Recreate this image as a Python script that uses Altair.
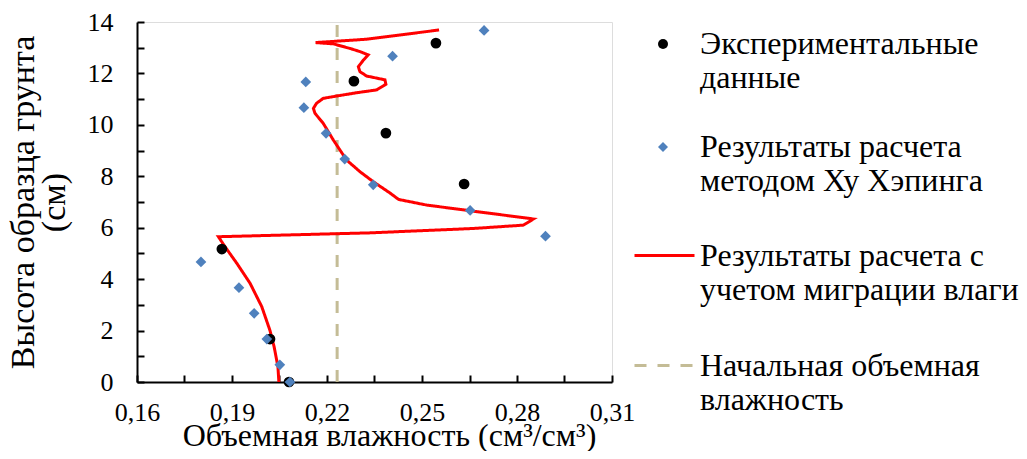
import altair as alt
import pandas as pd

# ---- data ----
exp_x = [0.2080, 0.2020, 0.1868, 0.2633, 0.2386, 0.2285, 0.2544]
exp_y = [0.00, 1.67, 5.17, 7.70, 9.68, 11.70, 13.18]

xu_x = [0.2083, 0.2051, 0.2010, 0.1970, 0.1922, 0.1802, 0.2890, 0.2652,
        0.2346, 0.2256, 0.2197, 0.2127, 0.2133, 0.2407, 0.2696]
xu_y = [0.00, 0.67, 1.67, 2.67, 3.67, 4.67, 5.67, 6.67,
        7.67, 8.67, 9.67, 10.67, 11.67, 12.67, 13.67]

mig_x = [0.2048, 0.2045, 0.2033, 0.2020, 0.1994, 0.1957, 0.1915, 0.1878, 0.1857,
         0.2336, 0.2662, 0.2820, 0.2852, 0.2652, 0.2515, 0.2426, 0.2400, 0.2346,
         0.2304, 0.2262, 0.2220, 0.2188, 0.2162, 0.2157, 0.2167, 0.2188, 0.2230,
         0.2294, 0.2357, 0.2386, 0.2383, 0.2325, 0.2304, 0.2299, 0.2315, 0.2330,
         0.2304, 0.2273, 0.2220, 0.2164, 0.2325, 0.2554]
mig_y = [0.00, 0.60, 1.37, 2.00, 2.93, 3.84, 4.62, 5.26, 5.65,
         5.80, 5.97, 6.10, 6.34, 6.66, 6.88, 7.10, 7.34, 7.79,
         8.18, 8.63, 9.41, 10.06, 10.45, 10.64, 10.84, 11.03, 11.12,
         11.25, 11.36, 11.58, 11.75, 11.90, 12.07, 12.26, 12.52, 12.72,
         12.85, 12.97, 13.15, 13.20, 13.33, 13.69]

init_x = [0.2232, 0.2232]
init_y = [0.0, 14.0]

series_names = [
    "Экспериментальные|данные",
    "Результаты расчета|методом Ху Хэпинга",
    "Результаты расчета с|учетом миграции влаги",
    "Начальная объемная|влажность",
]

x_ticks = [0.16, 0.175, 0.19, 0.205, 0.22, 0.235, 0.25, 0.265, 0.28, 0.295, 0.31]
y_ticks = list(range(0, 15))

# ---- tables ----
pts = pd.DataFrame({
    "x": exp_x + xu_x,
    "y": exp_y + xu_y,
    "s": [series_names[0]] * len(exp_x) + [series_names[1]] * len(xu_x),
})
lines = pd.DataFrame({
    "x": init_x + mig_x,
    "y": init_y + mig_y,
    "s": [series_names[3]] * len(init_x) + [series_names[2]] * len(mig_x),
    "o": list(range(len(init_x))) + list(range(len(mig_x))),
})

W, H = 475, 360
FONT = "Liberation Serif"

xscale = alt.Scale(domain=[0.16, 0.31], nice=False, zero=False)
yscale = alt.Scale(domain=[0, 14], nice=False, zero=False)

x_label_expr = ("(round(datum.value*1000) % 30 == 10) ? "
                "replace(format(datum.value, '.2f'), '.', ',') : ''")
y_label_expr = "(datum.value % 2 == 0) ? datum.label : ''"

axis_common = dict(grid=False, labelFont=FONT, labelFontSize=26, labelColor="black",
                   titleFont=FONT, titleColor="black",
                   titleFontWeight="normal", domainColor="black", domainWidth=2)

x_lab_axis = alt.Axis(orient="bottom", values=x_ticks, labelExpr=x_label_expr,
                      ticks=False, labelPadding=17, labelFlush=False,
                      title="Объемная влажность (см³/см³)",
                      titleX=252, titleY=38, titleAlign="center", titleBaseline="top",
                      titleFontSize=32, **axis_common)
y_lab_axis = alt.Axis(orient="left", values=y_ticks, labelExpr=y_label_expr,
                      ticks=False, labelPadding=24, labelFlush=False,
                      title=["Высота образца грунта", "(см)"], titlePadding=16,
                      titleLineHeight=31, titleFontSize=34, **axis_common)

x_tick_axis = alt.Axis(orient="top", offset=-H, values=x_ticks, labels=False,
                       domain=False, ticks=True, tickSize=7, tickWidth=2,
                       tickColor="black", grid=False, title=None)
y_tick_axis = alt.Axis(orient="right", offset=-W, values=y_ticks, labels=False,
                       domain=False, ticks=True, tickSize=7, tickWidth=2,
                       tickColor="black", grid=False, title=None)

p_legend = alt.Legend(title=None, orient="right", labelExpr="split(datum.label, '|')",
                      labelFont=FONT, labelFontSize=32, labelColor="black",
                      labelLimit=0, labelBaseline="middle", symbolOffset=21,
                      labelOffset=21, rowPadding=37, offset=8, padding=6,
                      symbolStrokeWidth=0)
l_legend = alt.Legend(title=None, orient="right", labelExpr="split(datum.label, '|')",
                      labelFont=FONT, labelFontSize=32, labelColor="black",
                      labelLimit=0, labelBaseline="middle", symbolOffset=0,
                      labelOffset=4, rowPadding=28, offset=8, padding=13,
                      symbolSize=3600, symbolStrokeWidth=3, symbolType="stroke")

p_fill = alt.Fill("s:N", scale=alt.Scale(domain=series_names[:2],
                                          range=["#000000", "#4F81BD"]),
                  legend=p_legend)
p_shape = alt.Shape("s:N", scale=alt.Scale(domain=series_names[:2],
                                            range=["circle", "diamond"]),
                    legend=p_legend)

# empty layer placed first so the point legend is listed above the line legend
legend_carrier = alt.Chart(pts).transform_filter("false").mark_point(
    filled=True, size=115, opacity=1
).encode(
    x=alt.X("x:Q", scale=xscale, axis=None),
    y=alt.Y("y:Q", scale=yscale, axis=None),
    fill=p_fill,
    shape=p_shape,
)

line_layer = alt.Chart(lines).mark_line(strokeWidth=3, clip=True).encode(
    x=alt.X("x:Q", scale=xscale, axis=x_tick_axis),
    y=alt.Y("y:Q", scale=yscale, axis=y_tick_axis),
    stroke=alt.Stroke("s:N", scale=alt.Scale(domain=[series_names[2], series_names[3]],
                                              range=["#FF0000", "#C4BC96"]),
                      legend=l_legend),
    strokeDash=alt.StrokeDash("s:N", scale=alt.Scale(domain=[series_names[2], series_names[3]],
                                                      range=[[1, 0], [12, 11]]),
                              legend=l_legend),
    order="o:Q",
)

point_layer = alt.Chart(pts).mark_point(filled=True, size=115, opacity=1).encode(
    x=alt.X("x:Q", scale=xscale, axis=x_lab_axis),
    y=alt.Y("y:Q", scale=yscale, axis=y_lab_axis),
    fill=p_fill,
    shape=p_shape,
)

chart = alt.layer(legend_carrier, line_layer, point_layer).resolve_axis(
    x="independent", y="independent"
).properties(
    width=W, height=H,
    autosize=alt.AutoSizeParams(type="none"),
    padding={"left": 129, "top": 14, "right": 407, "bottom": 69},
).configure_view(
    stroke="black", strokeWidth=1.5
).configure(font=FONT)

chart.save("out.html", embed_options={"renderer": "svg", "actions": False})
